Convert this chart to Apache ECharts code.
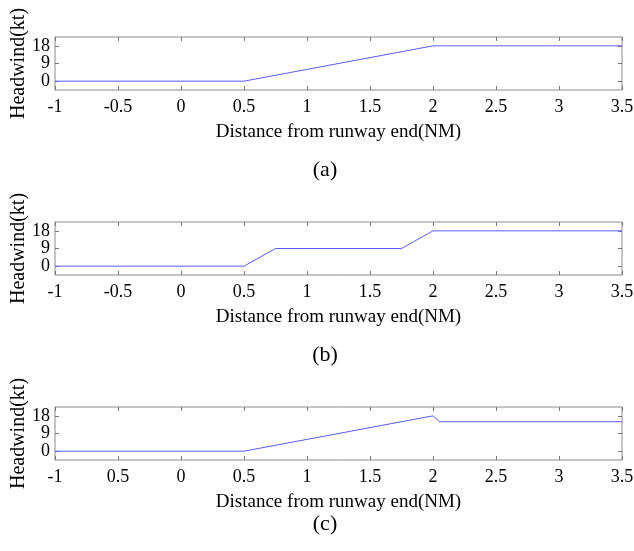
<!DOCTYPE html>
<html><head><meta charset="utf-8">
<script src="https://cdn.jsdelivr.net/npm/echarts@6/dist/echarts.min.js"></script>
<style>html,body{margin:0;padding:0;background:#fff}#c{width:634px;height:551px}</style>
</head><body><div id="c"></div>
<script>
// ---- data ----
const xA = [-1, 0.5, 2, 3.5];
const yA = [0, 0, 18, 18];
const xB = [-1, 0.5, 0.75, 1.75, 2, 3.5];
const yB = [0, 0, 9, 9, 18, 18];
const xC = [-1, 0.5, 2, 2.05, 3.5];
const yC = [0, 0, 18, 15, 15];
const xTickLabelsAB = ['-1','-0.5','0','0.5','1','1.5','2','2.5','3','3.5'];
const xTickLabelsC = ['-1','0.5','0','0.5','1','1.5','2','2.5','3','3.5'];
const yTicks = [0, 9, 18];
const captions = ['(a)', '(b)', '(c)'];
const xName = 'Distance from runway end(NM)';
const yName = 'Headwind(kt)';

const FONT = 'Liberation Serif';
const gridTops = [37, 222, 407];
const GH = 53;
const captionY = [168, 353, 522];

const series = [[xA,yA],[xB,yB],[xC,yC]];
const xLabels = [xTickLabelsAB, xTickLabelsAB, xTickLabelsC];

const grid = [], xAxis = [], yAxis = [], ser = [], title = [];
for (let i = 0; i < 3; i++) {
  grid.push({left: 55, right: 12, top: gridTops[i], height: GH, show: true,
    outerBoundsMode: 'none', containLabel: false,
    borderColor: '#8a8a8a', borderWidth: 1, backgroundColor: 'transparent'});
  const labs = xLabels[i];
  xAxis.push({type: 'value', gridIndex: i, position: 'bottom', min: -1, max: 3.5, interval: 0.5,
    name: xName, nameLocation: 'middle', nameGap: 33,
    nameTextStyle: {fontFamily: FONT, fontSize: 19, color: '#000'},
    axisLine: {show: false, onZero: false},
    axisTick: {show: true, inside: true, length: 4, lineStyle: {color: '#777'}},
    axisLabel: {fontFamily: FONT, fontSize: 18, color: '#000', margin: 8,
      formatter: v => labs[Math.round((v + 1) / 0.5)]},
    splitLine: {show: false}});
  xAxis.push({type: 'value', gridIndex: i, position: 'top', min: -1, max: 3.5, interval: 0.5,
    axisLine: {show: false, onZero: false},
    axisTick: {show: true, inside: true, length: 4, lineStyle: {color: '#777'}},
    axisLabel: {show: false}, splitLine: {show: false}});
  yAxis.push({type: 'value', gridIndex: i, position: 'left', min: -4.5, max: 22.5, interval: 4.5,
    name: yName, nameLocation: 'middle', nameGap: 26, nameMoveOverlap: false,
    nameTextStyle: {fontFamily: FONT, fontSize: 20, color: '#000'},
    axisLine: {show: false, onZero: false},
    axisTick: {show: true, inside: true, length: 4, customValues: yTicks, lineStyle: {color: '#777'}},
    axisLabel: {fontFamily: FONT, fontSize: 18, color: '#000', margin: 5, hideOverlap: false,
      showMinLabel: false, showMaxLabel: false,
      formatter: v => (yTicks.indexOf(v) >= 0 ? String(v) : '')},
    splitLine: {show: false}});
  yAxis.push({type: 'value', gridIndex: i, position: 'right', min: -4.5, max: 22.5, interval: 4.5,
    axisLine: {show: false, onZero: false},
    axisTick: {show: true, inside: true, length: 4, customValues: yTicks, lineStyle: {color: '#777'}},
    axisLabel: {show: false}, splitLine: {show: false}});
  const [xs, ys] = series[i];
  ser.push({type: 'line', xAxisIndex: 2*i, yAxisIndex: 2*i, showSymbol: false, silent: true,
    data: xs.map((x, k) => [x, ys[k]]),
    lineStyle: {color: '#5a5aff', width: 1}});
  title.push({text: captions[i], left: 320, top: captionY[i] - 14, textAlign: 'center',
    textStyle: {fontFamily: FONT, fontSize: 22, fontWeight: 'normal', color: '#000'}});
}

const chart = echarts.init(document.getElementById('c'), null, {renderer: 'canvas'});
chart.setOption({animation: false, backgroundColor: '#fff', title, grid, xAxis, yAxis, series: ser});
</script>
</body></html>
